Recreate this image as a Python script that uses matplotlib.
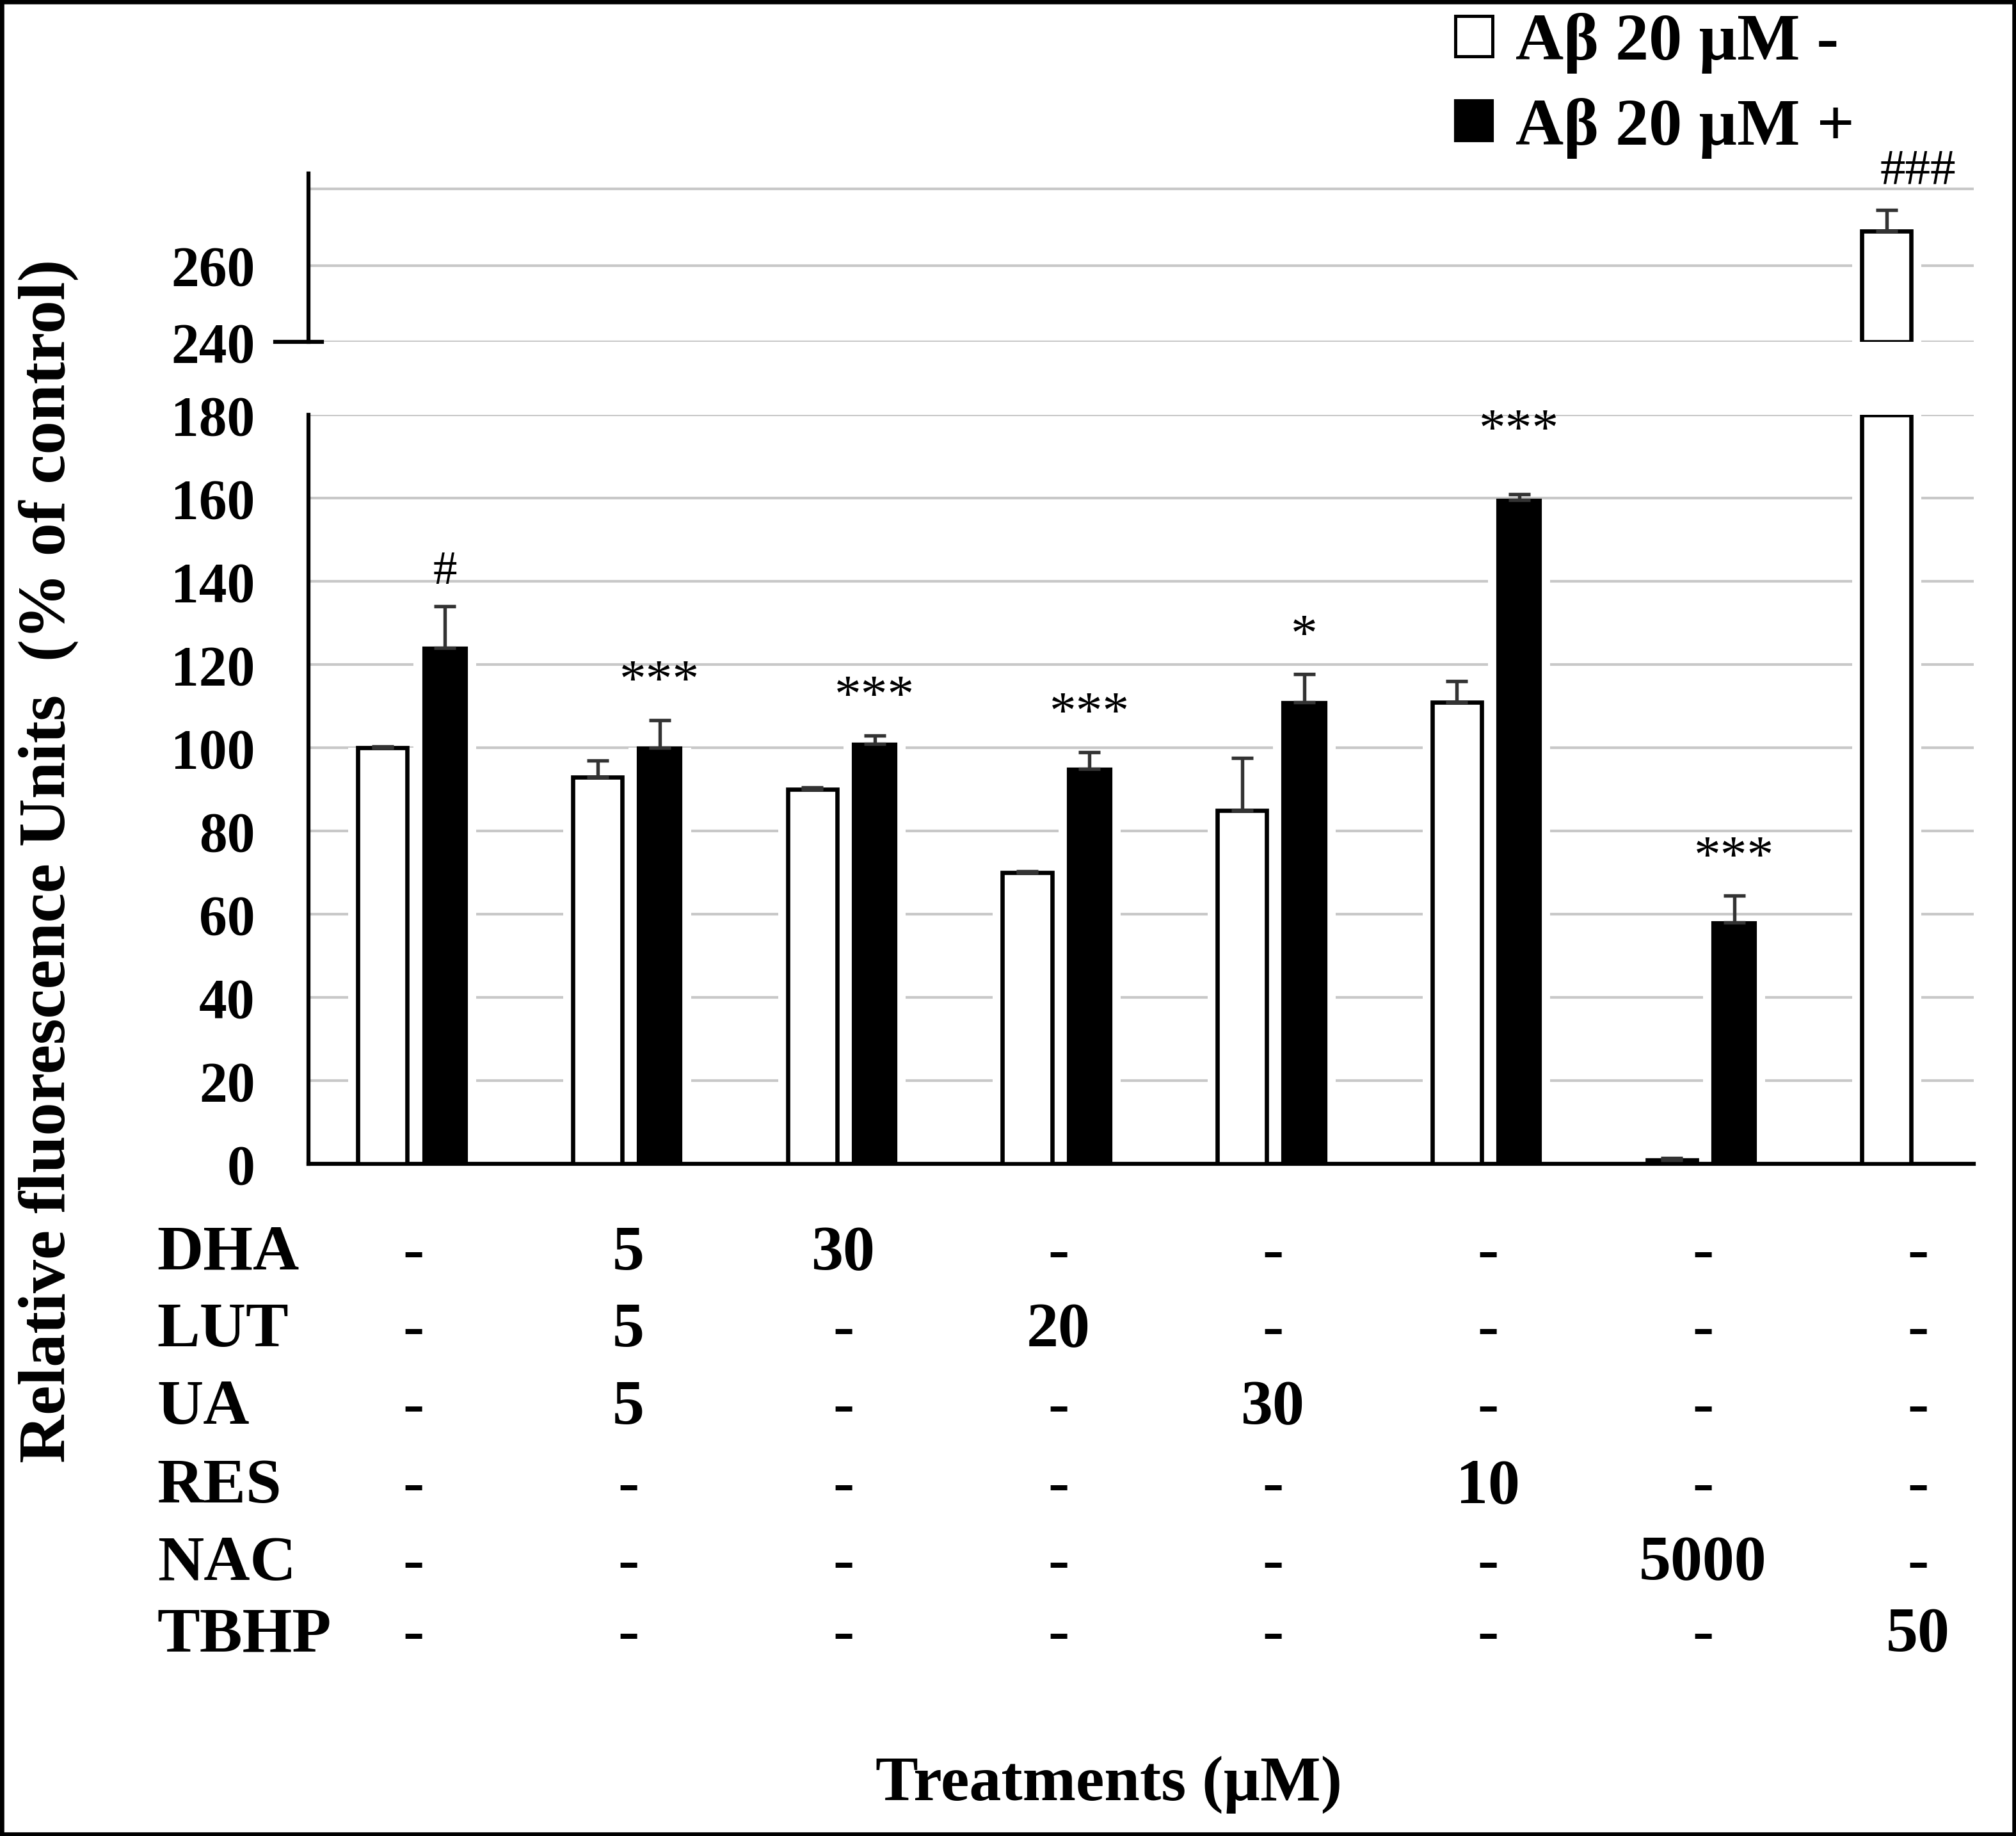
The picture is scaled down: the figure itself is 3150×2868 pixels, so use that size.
import numpy as np
import matplotlib
matplotlib.use('Agg')
import matplotlib.pyplot as plt
from matplotlib.patches import Patch, Rectangle

plt.rcParams['font.family'] = ['Liberation Serif', 'DejaVu Serif']
plt.rcParams['font.weight'] = 'bold'

# data
treatments = ['DHA', 'LUT', 'UA', 'RES', 'NAC', 'TBHP']
doses = [
    ['-', '5', '30', '-', '-', '-', '-', '-'],
    ['-', '5', '-', '20', '-', '-', '-', '-'],
    ['-', '5', '-', '-', '30', '-', '-', '-'],
    ['-', '-', '-', '-', '-', '10', '-', '-'],
    ['-', '-', '-', '-', '-', '-', '5000', '-'],
    ['-', '-', '-', '-', '-', '-', '-', '50'],
]
abeta_minus = [100, 93, 90, 70, 85, 111, 1, 269]
abeta_minus_err = [0.3, 4, 0.5, 0.3, 12.5, 5, 0.5, 5.5]
abeta_plus = [124, 100, 101, 95, 111, 159.5, 58]
abeta_plus_err = [10, 6.7, 2, 4, 6.7, 1.5, 6.5]
plus_marks = ['#', '***', '***', '***', '*', '***', '***']
minus_marks = ['', '', '', '', '', '', '', '###']

y_lower_ticks = list(range(0, 181, 20))
y_upper_ticks = [240, 260]
legend_labels = ['A\u03b2 20 \u00b5M -', 'A\u03b2 20 \u00b5M +']

fig = plt.figure(figsize=(10.5, 9.56), dpi=300)

ax = fig.add_axes([0.153, 0.366, 0.826, 0.408])
ax_top = fig.add_axes([0.153, 0.8137, 0.826, 0.0918])

n = len(abeta_minus)
x = np.arange(n)
off = 0.145
w_white = 0.23
w_black = 0.2
grid_col = '#c8c8c8'
cut = 180

lower_white = np.minimum(abeta_minus, cut)
xw = x - off
xb = x[:len(abeta_plus)] + off

# white halo behind bars so the gridlines break around them
ax.bar(xw, lower_white, width=w_white + 0.09, color='white', zorder=2)
ax.bar(xb, abeta_plus, width=w_black + 0.09, color='white', zorder=2)

ax.bar(xw, lower_white, width=w_white, facecolor='white', edgecolor='black', linewidth=1.6, zorder=3)
ax.bar(xb, abeta_plus, width=w_black, facecolor='black', edgecolor='black', linewidth=1.0, zorder=3)

low_idx = [i for i in range(n) if abeta_minus[i] <= cut]
ax.errorbar(xw[low_idx], np.array(abeta_minus)[low_idx],
            yerr=[np.zeros(len(low_idx)), np.array(abeta_minus_err)[low_idx]],
            fmt='none', ecolor='#333333', elinewidth=1.3, capsize=4, capthick=1.3, zorder=4)
ax.errorbar(xb, abeta_plus, yerr=[np.zeros(len(abeta_plus)), abeta_plus_err],
            fmt='none', ecolor='#333333', elinewidth=1.3, capsize=4, capthick=1.3, zorder=4)

for xi, v, e, m in zip(xb, abeta_plus, abeta_plus_err, plus_marks):
    fs = 18 if m.startswith('#') else 20
    pad = 3 if e >= 2 else 9
    ax.text(xi, v + e + pad, m, ha='center', va='bottom', fontsize=fs, fontweight='normal', zorder=5)

ax.set_xlim(-0.49, 7.26)
ax.set_ylim(0, cut)
ax.set_yticks(y_lower_ticks)
ax.set_xticks([])
ax.tick_params(axis='y', length=0, pad=20, labelsize=21)
ax.yaxis.grid(True, color=grid_col, linewidth=1.0)
ax.set_axisbelow(True)
for s in ['top', 'right']:
    ax.spines[s].set_visible(False)
ax.spines['left'].set_linewidth(1.5)
ax.spines['bottom'].set_linewidth(1.5)

# upper segment of the broken axis
hi_idx = [i for i in range(n) if abeta_minus[i] > cut]
for i in hi_idx:
    ax_top.bar(xw[i], abeta_minus[i] - y_upper_ticks[0], bottom=y_upper_ticks[0], width=w_white + 0.09,
               color='white', zorder=2)
    ax_top.bar(xw[i], abeta_minus[i] - y_upper_ticks[0], bottom=y_upper_ticks[0], width=w_white,
               facecolor='white', edgecolor='black', linewidth=1.6, zorder=3)
    ax_top.errorbar(xw[i], abeta_minus[i], yerr=[[0], [abeta_minus_err[i]]], fmt='none',
                    ecolor='#333333', elinewidth=1.3, capsize=4, capthick=1.3, zorder=4)
    ax_top.text(x[i], abeta_minus[i] + abeta_minus_err[i] + 4, minus_marks[i], ha='center',
                va='bottom', fontsize=19, fontweight='normal', clip_on=False)

ax_top.set_xlim(ax.get_xlim())
ax_top.set_ylim(240, 284)
ax_top.set_yticks([240, 260, 280])
ax_top.set_yticklabels(['240', '260', ''])
ax_top.set_xticks([])
ax_top.tick_params(axis='y', length=0, pad=20, labelsize=21)
ax_top.yaxis.grid(True, color=grid_col, linewidth=1.0)
ax_top.set_axisbelow(True)
for s in ['top', 'right', 'bottom']:
    ax_top.spines[s].set_visible(False)
ax_top.spines['left'].set_linewidth(1.5)
ax_top.patch.set_alpha(0)
ax_top.plot([-0.02, 0.008], [240, 240], transform=ax_top.get_yaxis_transform(),
            color='black', linewidth=1.5, clip_on=False)

# treatment table under the bars
row_y = [0.317, 0.275, 0.233, 0.190, 0.148, 0.109]
tr = matplotlib.transforms.blended_transform_factory(ax.transData, fig.transFigure)
for name, row, yy in zip(treatments, doses, row_y):
    fig.text(0.078, yy, name, ha='left', va='center', fontsize=24)
    for xi, d in zip(x, row):
        ax.text(xi, yy, d, transform=tr, ha='center', va='center', fontsize=24, clip_on=False)

fig.text(0.55, 0.028, 'Treatments (\u00b5M)', ha='center', va='center', fontsize=24)
fig.text(0.024, 0.531, 'Relative fluorescence Units  (% of control)', rotation=90,
         ha='center', va='center', fontsize=25)

handles = [Patch(facecolor='white', edgecolor='black', linewidth=1.2),
           Patch(facecolor='black', edgecolor='black')]
fig.legend(handles, legend_labels, loc='upper left', bbox_to_anchor=(0.722, 0.993),
           frameon=False, fontsize=25, handlelength=0.55, handleheight=0.55,
           handletextpad=0.35, labelspacing=0.36, borderpad=0, borderaxespad=0)

fig.patches.append(Rectangle((0, 0), 1, 1, transform=fig.transFigure, fill=False,
                             edgecolor='black', linewidth=3))

fig.savefig('out.png', dpi=300)
